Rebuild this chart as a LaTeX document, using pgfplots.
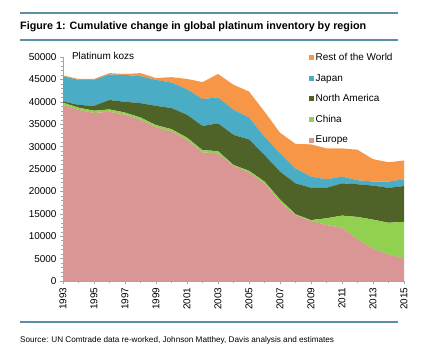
\documentclass[border=0pt]{standalone}
\usepackage{pgfplots}
\pgfplotsset{compat=1.18}
\usepackage{fontspec}
\setmainfont{Liberation Sans}
\definecolor{cEur}{HTML}{D99694}
\definecolor{cChi}{HTML}{92D050}
\definecolor{cNA}{HTML}{4F6228}
\definecolor{cJap}{HTML}{4BACC6}
\definecolor{cRow}{HTML}{F79646}
\definecolor{cRule}{HTML}{5B8FA8}
\begin{document}
\begin{tikzpicture}[x=1bp,y=1bp]
\path[use as bounding box] (0,0) rectangle (437,358);
\draw[cRule,line width=1.2bp] (20,345) -- (398,345);
\draw[cRule,line width=1.2bp] (20,318) -- (398,318);
\draw[cRule,line width=1.2bp] (20,36) -- (398,36);
\node[anchor=base west,inner sep=0pt,font=\fontsize{10.8}{12}\selectfont\bfseries] at (20,328.5) {Figure 1: Cumulative change in global platinum inventory by region};
\node[anchor=base west,inner sep=0pt,font=\fontsize{8.2}{9}\selectfont] at (20,16) {Source: UN Comtrade data re-worked, Johnson Matthey, Davis analysis and estimates};
\begin{axis}[
  at={(63bp,77bp)}, anchor=south west,
  scale only axis, width=341bp, height=224bp,
  xmin=1993, xmax=2015, ymin=0, ymax=50000,
  stack plots=y,
  scaled y ticks=false,
  axis lines=left, axis line style={draw=gray!70, line width=0.5bp, -},
  xtick={1993,1995,...,2015}, minor xtick={1994,1996,...,2014},
  xticklabel style={rotate=90, anchor=east, font=\fontsize{10}{11}\selectfont},
  x tick label style={/pgf/number format/1000 sep={}},
  ytick={0,5000,...,50000}, minor ytick={0,1000,...,50000},
  yticklabel style={font=\fontsize{10}{11}\selectfont},
  y tick label style={/pgf/number format/1000 sep={}},
  /pgf/number format/assume math mode=true,
  tick align=outside, major tick length=3bp, minor tick length=2bp,
  tick style={draw=gray!70, line width=0.5bp},
  every tick/.style={draw=gray!70},
  legend style={draw=none, fill=none, at={(0.72,1.025)}, anchor=north west, font=\fontsize{10}{11}\selectfont, row sep=8bp, inner sep=0pt, legend cell align=left},
  legend image code/.code={\fill[#1] (0bp,-2.5bp) rectangle (5bp,2.5bp);},
  reverse legend,
  clip=false,
]
\addplot[fill=cEur, draw=none] coordinates {
(1993,39300)(1994,38200)(1995,37500)(1996,37800)(1997,37100)(1998,36000)(1999,34300)(2000,33400)(2001,31500)(2002,28700)(2003,28500)(2004,25700)(2005,24200)(2006,21800)(2007,17700)(2008,14700)(2009,13400)(2010,12500)(2011,11900)(2012,9300)(2013,7200)(2014,5900)(2015,5000)} \closedcycle;
\addlegendentry{Europe}
\addplot[fill=cChi, draw=none] coordinates {
(1993,500)(1994,500)(1995,500)(1996,500)(1997,500)(1998,500)(1999,500)(2000,500)(2001,500)(2002,500)(2003,500)(2004,200)(2005,400)(2006,400)(2007,500)(2008,200)(2009,200)(2010,1500)(2011,2700)(2012,5000)(2013,6500)(2014,7100)(2015,8200)} \closedcycle;
\addlegendentry{China}
\addplot[fill=cNA, draw=none] coordinates {
(1993,300)(1994,600)(1995,1100)(1996,2100)(1997,2400)(1998,3200)(1999,4300)(2000,4700)(2001,5100)(2002,5400)(2003,6200)(2004,6700)(2005,7000)(2006,5900)(2007,6200)(2008,6900)(2009,7200)(2010,6800)(2011,7200)(2012,7300)(2013,7600)(2014,7800)(2015,8000)} \closedcycle;
\addlegendentry{North America}
\addplot[fill=cJap, draw=none] coordinates {
(1993,5600)(1994,5600)(1995,5800)(1996,5700)(1997,6000)(1998,6000)(1999,5800)(2000,5700)(2001,5700)(2002,6000)(2003,5800)(2004,5600)(2005,4900)(2006,4100)(2007,4100)(2008,3300)(2009,2500)(2010,1900)(2011,1500)(2012,900)(2013,900)(2014,1400)(2015,1500)} \closedcycle;
\addlegendentry{Japan}
\addplot[fill=cRow, draw=none] coordinates {
(1993,200)(1994,200)(1995,200)(1996,300)(1997,200)(1998,700)(1999,400)(2000,1200)(2001,2300)(2002,3800)(2003,5200)(2004,5600)(2005,5800)(2006,5600)(2007,4600)(2008,5500)(2009,7200)(2010,6900)(2011,6300)(2012,6800)(2013,5000)(2014,4300)(2015,4200)} \closedcycle;
\addlegendentry{Rest of the World}
\node[anchor=base west, inner sep=0pt, font=\fontsize{10}{11}\selectfont] at (rel axis cs:0.026,0.99) {Platinum kozs};
\end{axis}
\end{tikzpicture}
\end{document}
